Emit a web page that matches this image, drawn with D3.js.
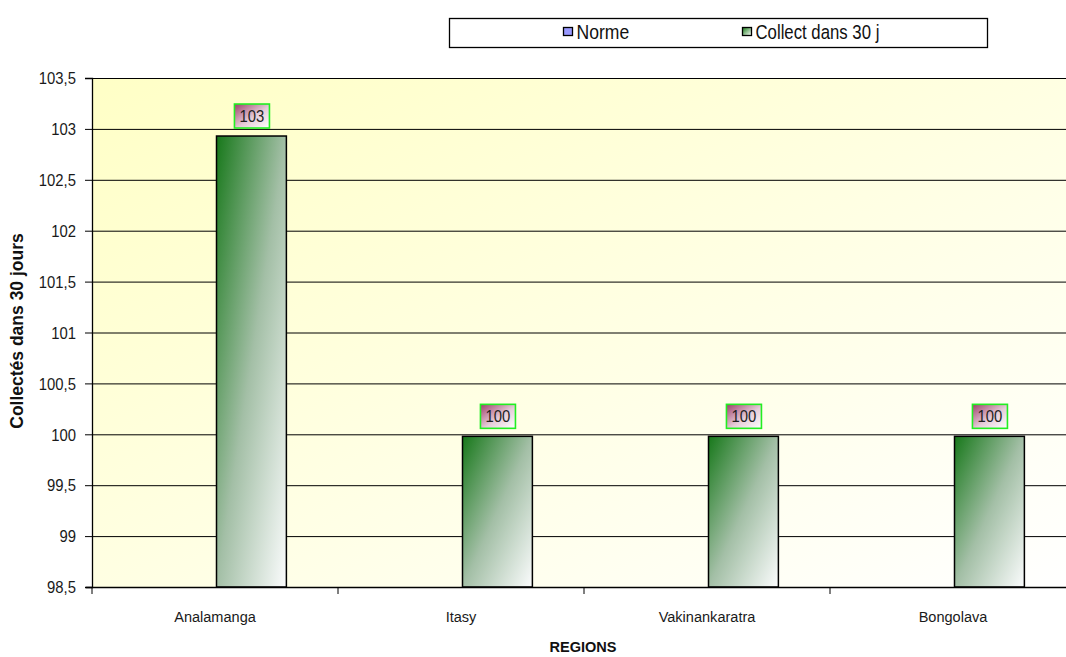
<!DOCTYPE html>
<html><head><meta charset="utf-8">
<script src="https://cdn.jsdelivr.net/npm/d3@7"></script>
<style>
body{margin:0;background:#fff;}
text{font-family:"Liberation Sans Narrow","Arial Narrow","Liberation Sans",sans-serif;}
</style></head>
<body><svg id="c" width="1066" height="657"></svg>
<script>
const categories = ["Analamanga","Itasy","Vakinankaratra","Bongolava"];
const seriesNames = ["Norme","Collect dans 30 j"];
const normeValues = [null,null,null,null];
const collectValues = [102.93,99.98,99.98,99.98];
const collectLabels = ["103","100","100","100"];
const yTicks = [98.5,99,99.5,100,100.5,101,101.5,102,102.5,103,103.5];

(function(){
const svg = d3.select("#c");
const pL=92, pR=1076, pT=78, pB=587;
function squeeze(sel,k){
  sel.each(function(){
    const t=d3.select(this);
    const x=+(t.attr("x")||0), y=+(t.attr("y")||0);
    t.attr("transform",`translate(${x},${y}) scale(${k},1) translate(${-x},${-y})`);
  });
}
const defs = svg.append("defs");
function grad(id,stops,x2,y2){
  const g=defs.append("linearGradient").attr("id",id).attr("x1","0").attr("y1","0").attr("x2",x2).attr("y2",y2);
  stops.forEach(s=>g.append("stop").attr("offset",s[0]).attr("stop-color",s[1]));
}
grad("bg",[[0,"#ffffc6"],[1,"#ffffff"]],1,1);
grad("bar",[[0,"#17781a"],[0.5,"#a3bfa6"],[1,"#fbfcfd"]],1,1);
grad("lab",[[0,"#9e3f6b"],[0.55,"#e6cdd9"],[1,"#ffffff"]],1,1);
grad("lg",[[0,"#1a7d1a"],[1,"#ffffff"]],1,1);

const x = d3.scaleBand().domain(categories).range([pL,pR]);
const xs = d3.scaleBand().domain(seriesNames).range([0,x.bandwidth()]).paddingInner(0).paddingOuter(0.76);
const y = d3.scaleLinear().domain([98.5,103.5]).range([pB,pT]);

svg.append("rect").attr("x",pL).attr("y",pT).attr("width",pR-pL).attr("height",pB-pT).attr("fill","url(#bg)");
svg.append("g").selectAll("line").data(yTicks.slice(1)).join("line")
  .attr("x1",pL).attr("x2",pR).attr("y1",d=>y(d)+0.5).attr("y2",d=>y(d)+0.5)
  .attr("stroke","#000").attr("stroke-width",1);

svg.append("g").selectAll("rect").data(categories).join("rect")
  .attr("x",(d,i)=>x(d)+xs(seriesNames[1])+1.5)
  .attr("y",(d,i)=>y(collectValues[i]))
  .attr("width",xs.bandwidth())
  .attr("height",(d,i)=>y(98.5)-y(collectValues[i]))
  .attr("fill","url(#bar)").attr("stroke","#000").attr("stroke-width",1.5);

const yAxis = d3.axisLeft(y).tickValues(yTicks).tickSize(7).tickPadding(9)
  .tickFormat(d=>d3.format("")(d).replace(".",","));
const ga = svg.append("g").attr("transform",`translate(${pL},0)`).call(yAxis);
ga.select(".domain").attr("stroke","#000").attr("stroke-width",1.3);
ga.selectAll(".tick line").attr("stroke","#000");
ga.selectAll("text").attr("font-size",16.5).attr("fill","#1a1a1a").attr("dy","0.35em");
squeeze(ga.selectAll("text"),0.9);

const xAxis = d3.axisBottom(x).tickSize(0).tickPadding(35);
const gx = svg.append("g").attr("transform",`translate(0,${pB})`).call(xAxis);
gx.select(".domain").remove();
gx.selectAll("text").attr("font-size",15).attr("fill","#1a1a1a").attr("dy",0);
squeeze(gx.selectAll("text"),0.97);
svg.append("line").attr("x1",pL-6).attr("x2",pR).attr("y1",pB+0.5).attr("y2",pB+0.5).attr("stroke","#000").attr("stroke-width",1.3);
svg.append("g").selectAll("line").data(categories).join("line")
  .attr("x1",d=>x(d)).attr("x2",d=>x(d)).attr("y1",pB).attr("y2",pB+7).attr("stroke","#000");

const lbl = svg.append("g").selectAll("g").data(categories).join("g")
  .attr("transform",(d,i)=>`translate(${x(d)+xs(seriesNames[1])+xs.bandwidth()/2+2},${y(collectValues[i])-20})`);
lbl.append("rect").attr("x",-17.5).attr("y",-12).attr("width",35).attr("height",24)
  .attr("fill","url(#lab)").attr("stroke","#22ee22").attr("stroke-width",1.6);
const lt = lbl.append("text").attr("text-anchor","middle").attr("y",6).attr("font-size",16.5).attr("fill","#222")
  .text((d,i)=>collectLabels[i]);
squeeze(lt,0.9);

svg.append("text").attr("transform","translate(23,331) rotate(-90)").attr("text-anchor","middle")
  .attr("font-size",17.5).attr("font-weight","bold").attr("fill","#111").text("Collectés dans 30 jours");
const rg = svg.append("text").attr("x",583).attr("y",652).attr("text-anchor","middle")
  .attr("font-size",15).attr("font-weight","bold").attr("fill","#111").text("REGIONS");
squeeze(rg,0.97);

svg.append("rect").attr("x",449.5).attr("y",18.5).attr("width",538).attr("height",29).attr("fill","#fff").attr("stroke","#000").attr("stroke-width",1.3);
const legX=[563.5,742.5], legFill=["#9999ff","url(#lg)"];
seriesNames.forEach((s,i)=>{
  svg.append("rect").attr("x",legX[i]).attr("y",27.5).attr("width",9).attr("height",8).attr("fill",legFill[i]).attr("stroke","#000").attr("stroke-width",1.3);
  const t = svg.append("text").attr("x",legX[i]+13).attr("y",39).attr("font-size",19.5).attr("fill","#111").text(s);
  squeeze(t, i===0?0.9:0.86);
});
})();
</script></body></html>
